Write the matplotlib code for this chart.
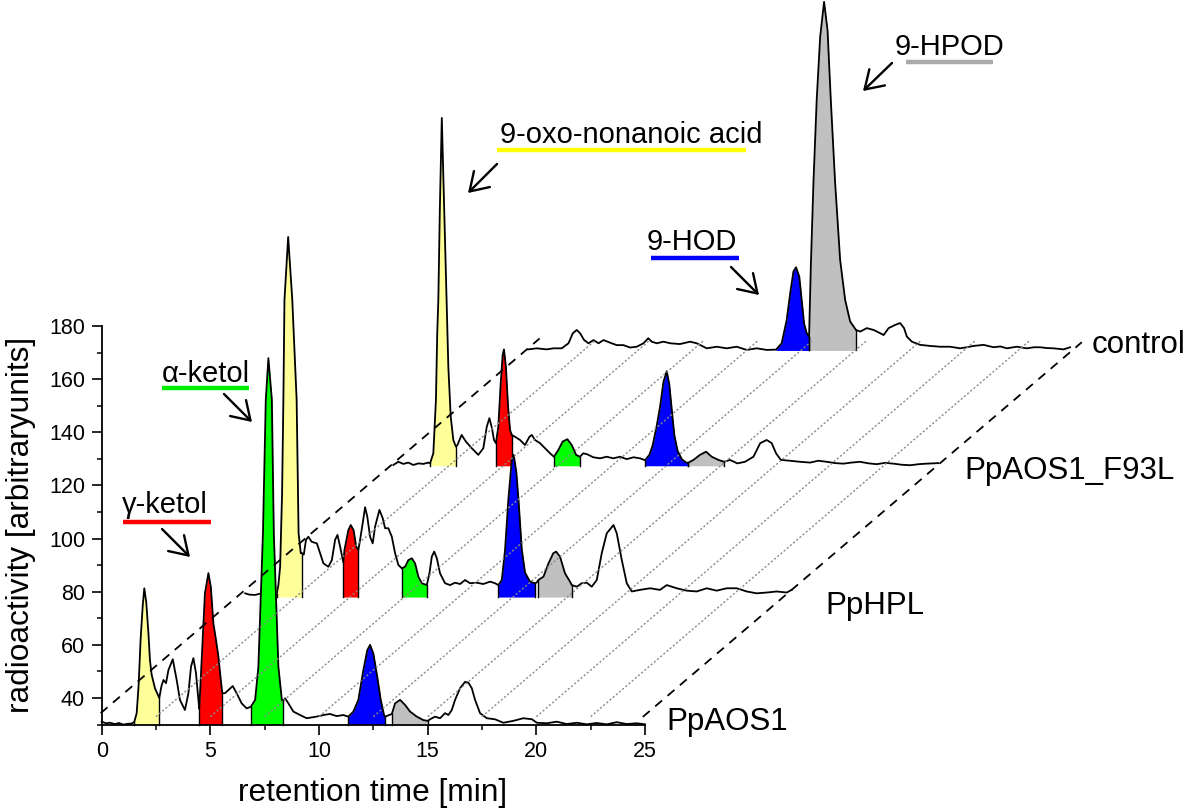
import matplotlib
matplotlib.use('Agg')
import numpy as np
import matplotlib.pyplot as plt
from matplotlib.lines import Line2D
from matplotlib.ticker import MultipleLocator

plt.rcParams['font.family'] = ['Liberation Sans', 'DejaVu Sans']

W, H = 1200, 809

# waterfall step between successive chromatograms (min, arbitrary units)
DX, DY = 6.5, 47.0

# ─── chromatograms (retention time [min], radioactivity) ─────────────────────
aos1 = [
    (0.00, 31.1), (0.20, 30.5), (0.38, 30.7), (0.60, 30.2), (0.80, 30.6), (0.99, 30.0),
    (1.20, 30.3), (1.37, 30.4), (1.50, 31.0), (1.61, 34.3), (1.70, 45.0), (1.79, 62.0),
    (1.89, 75.0), (1.96, 81.3), (2.05, 76.0), (2.15, 64.4), (2.22, 54.3), (2.30, 48.7),
    (2.45, 43.7), (2.65, 40.0), (2.75, 44.5), (2.84, 46.8), (2.96, 45.6), (3.07, 50.5),
    (3.27, 54.6), (3.45, 46.8), (3.60, 39.3), (3.83, 35.5), (3.99, 41.8), (4.11, 51.8),
    (4.22, 55.0), (4.34, 49.3), (4.45, 39.3), (4.49, 36.0), (4.60, 54.3), (4.75, 79.4),
    (4.91, 87.0), (5.02, 81.9), (5.14, 68.1), (5.26, 61.8), (5.37, 55.6), (5.48, 46.8),
    (5.55, 41.8), (5.67, 41.8), (5.83, 43.0), (6.03, 44.5), (6.21, 41.8), (6.44, 38.0),
    (6.67, 36.1), (6.86, 36.7), (7.06, 39.3), (7.21, 51.8), (7.42, 102.0), (7.55, 152.2),
    (7.67, 167.9), (7.83, 152.2), (7.92, 102.0), (8.13, 51.8), (8.29, 39.3), (8.36, 39.0),
    (8.44, 39.9), (8.59, 38.0), (8.82, 34.9), (9.13, 33.6), (9.43, 32.4), (9.74, 32.8),
    (10.00, 33.2), (10.20, 33.6), (10.50, 34.0), (10.81, 33.2), (11.12, 33.6), (11.35, 33.0),
    (11.58, 34.9), (11.81, 39.3), (12.04, 50.5), (12.22, 58.0), (12.35, 60.0), (12.50, 56.8),
    (12.68, 48.0), (12.84, 39.3), (12.99, 33.6), (13.04, 33.0), (13.20, 33.5), (13.35, 34.0),
    (13.50, 38.0), (13.73, 39.3), (13.96, 37.4), (14.19, 34.9), (14.50, 33.0), (14.80, 31.7),
    (15.00, 31.4), (15.11, 32.0), (15.34, 33.0), (15.57, 32.4), (15.80, 34.3), (15.95, 33.6),
    (16.11, 35.5), (16.26, 39.3), (16.49, 43.7), (16.72, 46.1), (16.87, 45.8), (17.03, 43.7),
    (17.18, 39.3), (17.41, 34.3), (17.72, 32.4), (18.10, 32.0), (18.48, 30.7), (18.94, 31.4),
    (19.40, 32.4), (19.80, 32.0), (20.02, 30.7), (20.48, 30.5), (20.94, 31.1), (21.40, 30.2),
    (21.86, 30.7), (22.32, 30.1), (22.78, 30.6), (23.24, 30.1), (23.70, 30.9), (24.16, 30.2),
    (24.62, 30.5), (25.00, 30.1),
]
hpl = [
    (0.10, 32.4), (0.30, 31.9), (0.56, 31.8), (0.90, 32.5), (1.20, 32.0), (1.40, 32.3),
    (1.55, 32.0), (1.63, 35.5), (1.71, 42.4), (1.80, 70.0), (1.86, 105.2), (1.91, 142.8),
    (2.08, 166.5), (2.27, 142.8), (2.47, 105.2), (2.56, 55.0), (2.66, 47.5), (2.71, 47.5),
    (2.80, 47.0), (2.90, 52.5), (3.01, 53.7), (3.16, 51.8), (3.40, 51.2), (3.55, 47.5),
    (3.70, 43.7), (3.93, 42.4), (4.09, 44.9), (4.24, 52.5), (4.35, 54.4), (4.47, 50.0),
    (4.62, 44.0), (4.67, 48.7), (4.85, 56.2), (4.96, 58.1), (5.09, 56.2), (5.21, 50.0),
    (5.31, 48.7), (5.39, 52.5), (5.51, 58.8), (5.62, 64.8), (5.72, 61.3), (5.85, 53.7),
    (5.97, 51.2), (6.08, 57.5), (6.28, 63.8), (6.43, 60.7), (6.54, 56.9), (6.69, 56.9),
    (6.85, 53.7), (7.00, 47.5), (7.15, 43.1), (7.31, 41.8), (7.46, 42.4), (7.61, 44.9),
    (7.77, 45.6), (7.92, 43.7), (8.07, 38.7), (8.23, 36.2), (8.46, 35.5), (8.58, 39.9),
    (8.69, 46.2), (8.80, 48.1), (8.92, 45.6), (9.07, 39.9), (9.30, 36.2), (9.53, 35.5),
    (9.76, 36.4), (9.99, 35.9), (10.22, 37.4), (10.45, 36.2), (10.76, 36.4), (11.06, 35.9),
    (11.37, 36.8), (11.60, 36.2), (11.75, 35.5), (11.91, 37.4), (12.06, 48.7), (12.21, 67.5),
    (12.37, 82.6), (12.46, 84.5), (12.58, 78.0), (12.68, 67.5), (12.83, 49.0), (12.98, 40.2),
    (13.21, 36.8), (13.44, 36.2), (13.52, 36.5), (13.59, 37.4), (13.83, 38.7), (14.06, 43.7),
    (14.28, 47.5), (14.41, 48.1), (14.59, 46.2), (14.82, 39.9), (15.05, 36.8), (15.13, 35.5),
    (15.36, 34.9), (15.59, 36.2), (15.82, 36.4), (16.05, 34.9), (16.28, 37.4), (16.51, 47.5),
    (16.74, 55.0), (17.05, 58.1), (17.20, 55.0), (17.43, 45.0), (17.66, 36.2), (17.89, 33.1),
    (18.27, 33.7), (18.73, 34.3), (19.19, 33.7), (19.50, 35.5), (19.96, 34.3), (20.42, 33.4),
    (20.88, 33.1), (21.34, 34.3), (21.80, 33.4), (22.26, 34.3), (22.72, 34.3), (23.18, 33.1),
    (23.64, 32.4), (24.10, 32.7), (24.56, 33.1), (25.02, 32.7), (25.25, 33.7),
]
f93l = [
    (0.42, 33.7), (0.65, 34.9), (0.88, 34.1), (1.11, 34.6), (1.34, 33.7), (1.57, 34.3),
    (1.80, 34.1), (2.03, 34.6), (2.11, 34.3), (2.26, 38.1), (2.38, 58.2), (2.44, 83.3),
    (2.49, 95.8), (2.56, 130.0), (2.65, 164.3), (2.76, 130.0), (2.87, 95.8), (2.95, 70.7),
    (3.06, 51.9), (3.18, 43.1), (3.30, 40.6), (3.37, 41.2), (3.56, 45.0), (3.76, 42.5),
    (4.03, 40.0), (4.33, 37.5), (4.56, 40.0), (4.72, 48.1), (4.84, 51.3), (4.96, 47.5),
    (5.05, 43.1), (5.14, 41.9), (5.25, 48.1), (5.36, 64.4), (5.45, 75.1), (5.51, 77.2),
    (5.60, 70.7), (5.70, 55.6), (5.79, 46.9), (5.87, 45.0), (6.02, 44.3), (6.25, 43.1),
    (6.48, 41.2), (6.68, 44.3), (6.79, 45.0), (6.94, 43.1), (7.17, 41.9), (7.40, 40.0),
    (7.63, 38.1), (7.81, 36.8), (8.01, 39.3), (8.21, 42.5), (8.43, 43.4), (8.63, 41.2),
    (8.83, 37.5), (9.01, 36.8), (9.16, 38.1), (9.35, 37.7), (9.62, 36.6), (9.93, 36.2),
    (10.24, 36.8), (10.54, 36.2), (10.85, 36.8), (11.16, 35.9), (11.47, 36.6), (11.77, 36.2),
    (12.00, 35.5), (12.20, 37.5), (12.35, 41.0), (12.54, 48.5), (12.70, 56.0), (12.85, 65.0),
    (13.00, 69.0), (13.12, 64.0), (13.25, 53.0), (13.35, 45.0), (13.50, 39.0), (13.70, 35.8),
    (13.92, 34.5), (14.00, 34.6), (14.23, 35.6), (14.53, 37.5), (14.81, 38.7), (15.07, 36.8),
    (15.38, 35.6), (15.64, 34.9), (15.91, 35.6), (16.25, 34.3), (16.60, 34.9), (16.99, 36.8),
    (17.30, 41.9), (17.60, 43.1), (17.83, 41.9), (18.03, 38.1), (18.25, 35.6), (18.67, 35.3),
    (19.13, 34.9), (19.60, 34.6), (19.98, 35.3), (20.36, 34.9), (20.75, 34.4), (21.13, 34.2),
    (21.50, 34.6), (21.89, 34.9), (22.30, 34.3), (22.66, 34.0), (23.05, 34.5), (23.43, 34.2),
    (23.80, 33.8), (24.20, 33.6), (24.60, 34.0), (24.96, 34.2), (25.50, 34.4),
]
control = [
    (0.13, 30.2), (0.52, 30.6), (0.98, 30.2), (1.29, 30.6), (1.67, 30.6), (1.98, 32.5),
    (2.18, 36.3), (2.36, 37.5), (2.51, 36.3), (2.70, 33.7), (2.90, 32.5), (3.13, 33.7),
    (3.36, 32.5), (3.59, 33.7), (3.90, 32.7), (4.20, 31.8), (4.51, 31.8), (4.81, 30.9),
    (5.12, 31.2), (5.43, 32.5), (5.65, 34.4), (5.81, 33.1), (6.04, 32.5), (6.35, 33.1),
    (6.66, 32.5), (7.11, 32.2), (7.57, 33.1), (7.88, 32.5), (8.34, 30.6), (8.80, 31.2),
    (9.26, 30.6), (9.72, 31.2), (10.18, 30.0), (10.64, 30.6), (11.10, 30.0), (11.53, 30.1),
    (11.79, 32.5), (12.02, 41.3), (12.18, 51.3), (12.33, 59.5), (12.45, 61.1), (12.60, 57.6),
    (12.71, 48.8), (12.82, 40.0), (12.94, 36.3), (13.05, 35.0), (13.13, 61.3), (13.25, 92.7),
    (13.40, 124.0), (13.56, 147.8), (13.74, 161.0), (13.90, 150.3), (14.05, 124.0), (14.25, 92.7),
    (14.48, 63.8), (14.71, 48.8), (14.94, 40.7), (15.21, 37.5), (15.40, 36.9), (15.71, 38.2),
    (16.02, 37.5), (16.32, 36.3), (16.48, 35.6), (16.71, 38.2), (17.01, 39.4), (17.24, 40.1),
    (17.42, 38.2), (17.55, 35.0), (17.78, 33.1), (18.16, 31.9), (18.62, 31.5), (19.08, 31.2),
    (19.54, 31.2), (20.00, 30.6), (20.31, 31.0), (20.62, 31.5), (21.08, 31.9), (21.54, 31.0),
    (21.85, 31.3), (22.15, 30.6), (22.61, 31.2), (23.07, 30.6), (23.40, 31.0), (23.68, 31.0),
    (24.00, 30.7), (24.30, 30.6), (24.76, 30.2), (25.06, 31.0),
]

# integrated peaks: (start, end, compound)
aos1_peaks = [(1.50, 2.65, 'oxo'), (4.49, 5.55, 'gamma'), (6.86, 8.36, 'alpha'),
              (11.35, 13.04, 'hod'), (13.35, 15.00, 'hpod')]
hpl_peaks = [(1.55, 2.71, 'oxo'), (4.62, 5.31, 'gamma'), (7.31, 8.46, 'alpha'),
             (11.75, 13.44, 'hod'), (13.59, 15.13, 'hpod')]
f93l_peaks = [(2.11, 3.30, 'oxo'), (5.14, 5.87, 'gamma'), (7.81, 9.01, 'alpha'),
              (12.00, 14.00, 'hod'), (14.00, 15.64, 'hpod')]
control_peaks = [(11.53, 13.05, 'hod'), (13.05, 15.21, 'hpod')]

names = ["PpAOS1", "PpHPL", "PpAOS1_F93L", "control"]
traces = [aos1, hpl, f93l, control]
peaks = [aos1_peaks, hpl_peaks, f93l_peaks, control_peaks]
baselines = [30.0, 31.0, 33.4, 29.8]

fill_colors = {'oxo': '#FFFF99', 'gamma': '#FF0000', 'alpha': '#00FF00',
               'hod': '#0000FF', 'hpod': '#C0C0C0'}
line_colors = {'oxo': '#FFFF00', 'gamma': '#FF0000', 'alpha': '#00EE00',
               'hod': '#0000FF', 'hpod': '#AAAAAA'}

# annotation texts, pixel positions (left, baseline), underline, arrow
ann_keys = ['hpod', 'oxo', 'hod', 'alpha', 'gamma']
ann_texts = ['9-HPOD', '9-oxo-nonanoic acid', '9-HOD', '\u03b1-ketol', '\u03b3-ketol']
ann_pos = [(895, 55), (500, 143), (647, 250), (162, 382), (122, 513)]
ann_under = [(906, 993, 62), (497, 746, 150), (651, 739, 258), (162, 249, 388), (123, 211, 522)]
ann_arrows = [((892, 63), (863, 91)), ((497, 164), (468, 193)), ((731, 267), (759, 295)),
              ((224, 394), (252, 422)), ((162, 529), (190, 557))]
name_pos = [(666, 730), (825, 614), (964, 479), (1092, 353)]


def fx(px):
    return px / W


def fy(py):
    return 1 - py / H


fig = plt.figure(figsize=(W / 100, H / 100), dpi=100)
ax = fig.add_axes([fx(101.7), fy(724.6), (645 - 101.7) / W, (724.6 - 326) / H])
ax.set_xlim(0, 25)
ax.set_ylim(30, 180)

for i in reversed(range(len(traces))):
    t = np.array([p[0] for p in traces[i]]) + i * DX
    v = np.array([p[1] for p in traces[i]]) + i * DY
    base = baselines[i] + i * DY
    z = 2 + 2 * (len(traces) - 1 - i)
    for ts, te, key in peaks[i]:
        ts, te = ts + i * DX, te + i * DX
        m = (t >= ts - 1e-9) & (t <= te + 1e-9)
        ax.fill_between(t[m], base, v[m], color=fill_colors[key], lw=0,
                        zorder=z, clip_on=False)
        for edge in (ts, te):
            k = np.argmin(np.abs(t - edge))
            ax.plot([edge, edge], [base, v[k]], color='k', lw=1.0,
                    zorder=z + 1, clip_on=False)
    ax.plot(t, v, color='k', lw=1.3, zorder=z + 1, clip_on=False)

# perspective guides
span_t, span_v = 3 * DX + 0.7, 3 * DY
for t0 in np.arange(2.5, 23, 2.5):
    ax.plot([t0, t0 + span_t], [33, 33 + span_v + 0.5], color='#8a8a8a', lw=1.0,
            ls=(0, (1.5, 1.5)), zorder=20, clip_on=False)
for t0, v0 in [(-0.05, 34.3), (24.9, 32.9)]:
    ax.plot([t0, t0 + span_t], [v0, v0 + span_v], color='k', lw=1.3,
            ls=(0, (5, 4)), zorder=21, clip_on=False)

ax.spines['top'].set_visible(False)
ax.spines['right'].set_visible(False)
for s in ('left', 'bottom'):
    ax.spines[s].set_linewidth(1.3)
    ax.spines[s].set_zorder(30)
ax.xaxis.set_major_locator(MultipleLocator(5))
ax.xaxis.set_minor_locator(MultipleLocator(2.5))
ax.yaxis.set_major_locator(MultipleLocator(20))
ax.yaxis.set_minor_locator(MultipleLocator(10))
ax.set_yticks([40, 60, 80, 100, 120, 140, 160, 180])
ax.tick_params(which='major', direction='out', length=7, width=1.2, labelsize=15.5, pad=5)
ax.tick_params(which='minor', direction='out', length=3.5, width=1.1)
ax.patch.set_visible(False)

fig.text(fx(373), fy(801), 'retention time [min]', fontsize=22.8, ha='center', va='baseline')
fig.text(fx(21), fy(525), 'radioactivity [arbitraryunits]', fontsize=22.8, rotation=90,
         ha='center', va='center')

for key, txt, (x, y), (u0, u1, uy), (a0, a1) in zip(ann_keys, ann_texts, ann_pos,
                                                     ann_under, ann_arrows):
    fig.text(fx(x), fy(y), txt, fontsize=21, ha='left', va='baseline')
    fig.add_artist(Line2D([fx(u0), fx(u1)], [fy(uy), fy(uy)], color=line_colors[key],
                          lw=3.2, solid_capstyle='butt'))
    ax.annotate('', xy=(fx(a1[0]), fy(a1[1])), xytext=(fx(a0[0]), fy(a0[1])),
                xycoords='figure fraction', textcoords='figure fraction',
                arrowprops=dict(arrowstyle='->,head_length=0.42,head_width=0.27',
                                lw=1.7, color='k', mutation_scale=30,
                                shrinkA=0, shrinkB=0))

for name, (x, y) in zip(names, name_pos):
    fig.text(fx(x), fy(y), name, fontsize=22.5, ha='left', va='baseline')

fig.savefig('out.png', dpi=100)
